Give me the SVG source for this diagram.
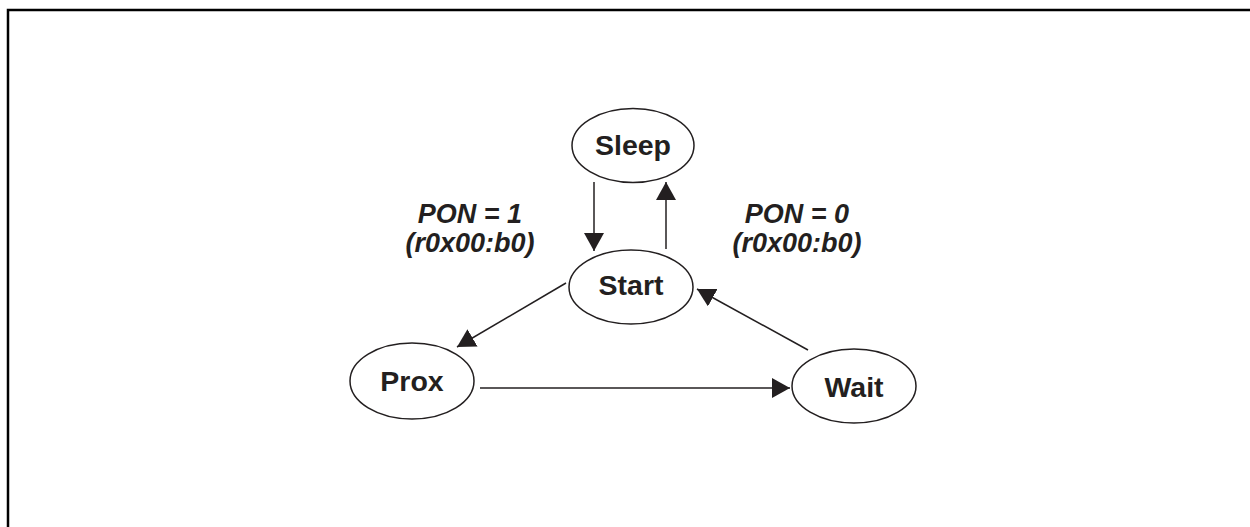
<svg xmlns="http://www.w3.org/2000/svg" width="1250" height="527" viewBox="0 0 1250 527">
<style>
.node ellipse{fill:#fff;stroke:#231f20;stroke-width:1.5}
.node text{font-family:"Liberation Sans",Arial,sans-serif;font-weight:bold;font-size:28.5px;fill:#231f20;text-anchor:middle}
.lbl{font-family:"Liberation Sans",Arial,sans-serif;font-weight:bold;font-style:italic;font-size:27px;fill:#231f20;text-anchor:middle}
.edges line{stroke:#231f20;stroke-width:1.5;marker-end:url(#ah)}
</style>
<defs>
<marker id="ah" viewBox="0 0 18 20" refX="18" refY="10" markerWidth="18" markerHeight="20" markerUnits="userSpaceOnUse" orient="auto">
<path d="M0,0 L18,10 L0,20 Z" fill="#231f20"/>
</marker>
</defs>
<rect width="1250" height="527" fill="#fff"/>
<path d="M8,527 V10 H1250" fill="none" stroke="#000" stroke-width="2.5"/>
<g class="edges">
<line x1="594" y1="182" x2="594" y2="251"/>
<line x1="666" y1="249" x2="666" y2="182"/>
<line x1="566" y1="283" x2="457" y2="347"/>
<line x1="480" y1="388" x2="790" y2="388"/>
<line x1="808" y1="350" x2="697" y2="289"/>
</g>
<g id="sleep" class="node"><ellipse cx="633" cy="145.5" rx="61" ry="37"/><text x="633" y="155">Sleep</text></g>
<g id="start" class="node"><ellipse cx="631" cy="287" rx="62" ry="37"/><text x="631" y="295">Start</text></g>
<g id="prox" class="node"><ellipse cx="412" cy="381" rx="62" ry="38"/><text x="412" y="391">Prox</text></g>
<g id="wait" class="node"><ellipse cx="854" cy="386" rx="62" ry="37"/><text x="854" y="397">Wait</text></g>
<g id="labels">
<text class="lbl" x="470" y="223">PON = 1</text>
<text class="lbl" x="470" y="252">(r0x00:b0)</text>
<text class="lbl" x="797" y="223">PON = 0</text>
<text class="lbl" x="797" y="252">(r0x00:b0)</text>
</g>
</svg>
